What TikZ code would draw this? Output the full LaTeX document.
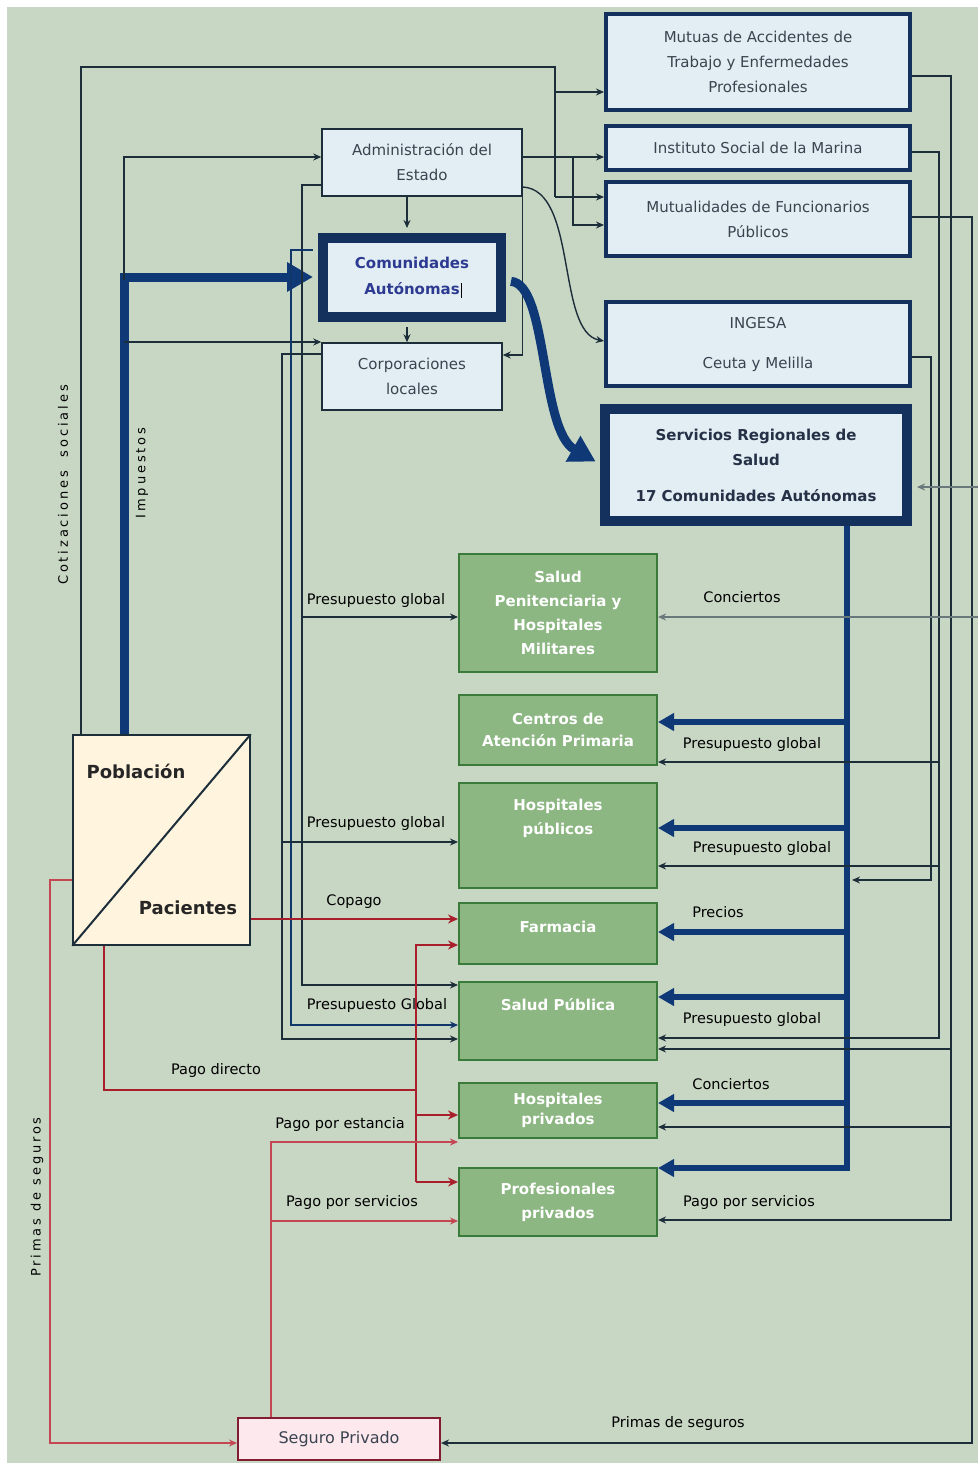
\documentclass[tikz,border=0pt]{standalone}
\usepackage{fontspec}
\setmainfont{DejaVu Sans}
\newfontfamily\spacedfont[LetterSpace=22]{DejaVu Sans}
\usetikzlibrary{arrows.meta,calc}
\definecolor{bgc}{RGB}{200,214,196}
\definecolor{upfill}{RGB}{226,238,243}
\definecolor{navy}{RGB}{20,48,92}
\definecolor{blueT}{RGB}{14,56,118}
\definecolor{gfill}{RGB}{140,182,130}
\definecolor{gborder}{RGB}{58,122,58}
\definecolor{cream}{RGB}{255,244,222}
\definecolor{redc}{RGB}{168,30,42}
\definecolor{pinkc}{RGB}{196,70,82}
\definecolor{dark}{RGB}{28,46,58}
\definecolor{greyl}{RGB}{105,120,122}
\definecolor{txtgrey}{RGB}{58,68,80}
\definecolor{catext}{RGB}{45,58,145}
\definecolor{srstext}{RGB}{38,48,70}
\definecolor{segfill}{RGB}{253,232,238}
\definecolor{segborder}{RGB}{130,28,48}
\tikzset{
  upbox/.style={draw=navy, line width=4pt, fill=upfill, text=txtgrey, align=center,
    font=\fontsize{15}{25}\selectfont, inner sep=0pt},
  srsbox/.style={draw=navy, line width=10pt, fill=upfill, text=srstext, align=center,
    font=\bfseries\fontsize{15}{25}\selectfont, inner sep=0pt},
  smallbox/.style={draw=dark, line width=1.5pt, fill=upfill, text=txtgrey, align=center,
    font=\fontsize{15}{25}\selectfont, inner sep=0pt},
  cabox/.style={draw=navy, line width=10pt, fill=upfill, text=catext, align=center,
    font=\bfseries\fontsize{15}{26}\selectfont, inner sep=0pt},
  gbox/.style={draw=gborder, line width=2pt, fill=gfill, text=white, align=center,
    minimum width=198pt, font=\bfseries\fontsize{15}{24}\selectfont, inner sep=0pt},
  gtext/.style={text=white, align=center, font=\bfseries\fontsize{15}{24}\selectfont, inner sep=0pt},
  pobbox/.style={draw=dark, line width=1.5pt, fill=cream, inner sep=0pt},
  pobtext/.style={text=black!85, font=\bfseries\fontsize{18}{20}\selectfont, inner sep=0pt},
  segbox/.style={draw=segborder, line width=2pt, fill=segfill, text=txtgrey,
    font=\fontsize{16}{18}\selectfont, inner sep=0pt},
  lab/.style={text=black, font=\fontsize{14.5}{17}\selectfont, inner sep=0pt},
  rotlab/.style={rotate=90, text=black, font=\fontsize{13}{15}\spacedfont, inner sep=0pt},
  thinl/.style={draw=dark, line width=1.4pt, line join=miter},
  tarr/.style={thinl, -{Stealth[length=8pt,width=7pt]}},
  garr/.style={draw=greyl, line width=1.4pt, -{Stealth[length=8pt,width=7pt]}},
  redl/.style={draw=redc, line width=2.6pt, line join=miter},
  rarr/.style={redl, -{Stealth[length=10pt,width=9pt]}},
  pinkl/.style={draw=pinkc, line width=1.5pt, line join=miter},
  parr/.style={pinkl, -{Stealth[length=8pt,width=7pt]}},
  barr/.style={draw=blueT, line width=6pt, line join=miter, -{Triangle[length=16pt,width=17pt]}},
  bbig/.style={draw=blueT, line width=9pt, line join=miter, -{Triangle[length=26pt,width=28pt]}}
}
\begin{document}
\begin{tikzpicture}[x=1pt,y=-1pt]
\useasboundingbox (0,0) rectangle (978,1463);
\fill[white] (0,0) rectangle (978,1463);
\fill[bgc] (7,7) rectangle (978,1463);

% ---------- upper right boxes
\node[upbox, minimum width=304pt, minimum height=96pt] (mutuas) at (758,62)
  {Mutuas de Accidentes de\\Trabajo y Enfermedades\\Profesionales};
\node[upbox, minimum width=304pt, minimum height=44pt] (ism) at (758,148)
  {Instituto Social de la Marina};
\node[upbox, minimum width=304pt, minimum height=74pt] (mutual) at (758,219)
  {Mutualidades de Funcionarios\\Públicos};
\node[upbox, minimum width=304pt, minimum height=84pt] (ingesa) at (758,344)
  {INGESA\\[15pt]Ceuta y Melilla};
\node[srsbox, minimum width=302pt, minimum height=112pt] (srs) at (756,465)
  {Servicios Regionales de\\Salud\\[11pt]17 Comunidades Autónomas};

% ---------- administrations
\node[smallbox, minimum width=200pt, minimum height=67pt] (admin) at (422,162.5)
  {Administración del\\Estado};
\node[cabox, minimum width=178pt, minimum height=79pt] (ca) at (412,277.5)
  {Comunidades\\Autónomas\rlap{\kern1pt\textcolor{black}{\rule[-3pt]{0.8pt}{15pt}}}};
\node[smallbox, minimum width=180pt, minimum height=67pt] (corp) at (412,376.5)
  {Corporaciones\\locales};

% ---------- green providers
\node[gbox, minimum height=118pt] (pen) at (558,613)
  {Salud\\Penitenciaria y\\Hospitales\\Militares};
\node[gbox, minimum height=70pt] (cap) at (558,730)
  {Centros de\\[-2pt]Atención Primaria};
\node[gbox, minimum height=105pt] (hpub) at (558,835.5) {};
\node[gtext] (hpubt) at (558,818) {Hospitales\\públicos};
\node[gbox, minimum height=61pt] (farm) at (558,933.5) {};
\node[gtext] (farmt) at (558,927) {Farmacia};
\node[gbox, minimum height=78pt] (spub) at (558,1021) {};
\node[gtext] (spubt) at (558,1005) {Salud Pública};
\node[gbox, minimum height=55pt] (hpriv) at (558,1110.5)
  {Hospitales\\[-4pt]privados};
\node[gbox, minimum height=68pt] (prof) at (558,1202)
  {Profesionales\\privados};

% ---------- population / patients
\node[pobbox, minimum width=177pt, minimum height=210pt] (pob) at (161.5,840) {};
\draw[line width=2pt, draw=dark] (pob.south west) -- (pob.north east);
\node[pobtext] (pobl) at (136,771) {Población};
\node[pobtext] (paci) at (188,908) {Pacientes};

% ---------- private insurance
\node[segbox, minimum width=202pt, minimum height=42pt] (seguro) at (339,1439) {Seguro Privado};

% ---------- Cotizaciones sociales
\draw[thinl] (pob.north -| 81,0) -- (81,67) -- (555,67) -- (555,197);
\draw[tarr] (555,92) -- (mutuas.west |- 0,92);
\draw[tarr] (555,197) -- (mutual.west |- 0,197);

% ---------- Administración del Estado outputs
\draw[tarr] (admin.east |- 0,157) -- (ism.west |- 0,157);
\draw[tarr] (573,157) -- (573,225) -- (mutual.west |- 0,225);
\draw[tarr] (admin.east |- 0,187) .. controls (578,190) and (556,332) .. (ingesa.west |- 0,341);
\draw[tarr, shorten >=5pt] (admin.south -| 407,0) -- (ca.north -| 407,0);
\draw[tarr, shorten <=5pt] (ca.south -| 407,0) -- (corp.north -| 407,0);
\draw[tarr] (admin.south east) -- (admin.south east |- 0,355) -- (corp.east |- 0,355);

% ---------- Impuestos
\draw[bbig, shorten >=5pt] (pob.north -| 124,0) -- (124,277) -- (ca.west |- 0,277);
\draw[tarr] (124,280) -- (124,157) -- (admin.west |- 0,157);
\draw[tarr] (124,342) -- (corp.west |- 0,342);

% ---------- left budget lines
\draw[tarr] (admin.west |- 0,185) -- (302,185) -- (302,985) -- (spub.west |- 0,985);
\draw[tarr] (302,617) -- (pen.west |- 0,617);
\draw[tarr, draw=blueT!80!dark, shorten <=5pt] (ca.west |- 0,250) -- (291,250) -- (291,1025) -- (spub.west |- 0,1025);
\draw[tarr] (corp.west |- 0,354) -- (282,354) -- (282,1039) -- (spub.west |- 0,1039);
\draw[tarr] (282,842) -- (hpub.west |- 0,842);

% ---------- CA -> SRS
\draw[bbig, shorten <=5pt, shorten >=5pt] (ca.east |- 0,281) .. controls (548,284) and (540,430) .. (srs.west |- 0,464);

% ---------- SRS distribution
\draw[barr] (srs.south -| 847,0) -- (847,1168) -- (prof.east |- 0,1168);
\draw[barr] (847,722) -- (cap.east |- 0,722);
\draw[barr] (847,828) -- (hpub.east |- 0,828);
\draw[barr] (847,932) -- (farm.east |- 0,932);
\draw[barr] (847,997) -- (spub.east |- 0,997);
\draw[barr] (847,1103) -- (hpriv.east |- 0,1103);

% ---------- right side lines
\draw[tarr] (mutuas.east |- 0,76) -- (951,76) -- (951,1220) -- (prof.east |- 0,1220);
\draw[tarr] (951,1049) -- (spub.east |- 0,1049);
\draw[tarr] (951,1127) -- (hpriv.east |- 0,1127);
\draw[tarr] (ism.east |- 0,152) -- (939,152) -- (939,1038) -- (spub.east |- 0,1038);
\draw[tarr] (939,762) -- (cap.east |- 0,762);
\draw[tarr] (939,866) -- (hpub.east |- 0,866);
\coordinate (ingend) at (852,880);
\draw[tarr] (ingesa.east |- 0,357) -- (931,357) -- (931,880) -- (ingend);
\draw[tarr] (mutual.east |- 0,217) -- (972,217) -- (972,1443) -- (seguro.east |- 0,1443);
\coordinate (edgeA) at (978,487);
\coordinate (edgeB) at (978,617);
\draw[garr, shorten >=5pt] (edgeA) -- (srs.east |- edgeA);
\draw[garr] (edgeB) -- (pen.east |- edgeB);

% ---------- patient payments
\draw[rarr] (pob.east |- 0,919) -- (farm.west |- 0,919);
\draw[redl] (pob.south -| 104,0) -- (104,1090) -- (416,1090);
\draw[rarr] (416,1182) -- (416,945) -- (farm.west |- 0,945);
\draw[rarr] (416,1115) -- (hpriv.west |- 0,1115);
\draw[rarr] (416,1182) -- (prof.west |- 0,1182);
\draw[parr] (seguro.north -| 271,0) -- (271,1142) -- (hpriv.west |- 0,1142);
\draw[parr] (271,1221) -- (prof.west |- 0,1221);
\draw[parr] (pob.west |- 0,880) -- (50,880) -- (50,1443) -- (seguro.west |- 0,1443);

% ---------- labels
\node[lab] (l1) at (376,600) {Presupuesto global};
\node[lab] (l2) at (376,823) {Presupuesto global};
\node[lab] (l3) at (354,902) {Copago};
\node[lab] (l4) at (377,1005) {Presupuesto Global};
\node[lab] (l5) at (216,1070) {Pago directo};
\node[lab] (l6) at (340,1124) {Pago por estancia};
\node[lab] (l7) at (352,1202) {Pago por servicios};
\node[lab] (r1) at (742,597) {Conciertos};
\node[lab] (r2) at (752,744) {Presupuesto global};
\node[lab] (r3) at (762,848) {Presupuesto global};
\node[lab] (r4) at (718,912) {Precios};
\node[lab] (r5) at (752,1019) {Presupuesto global};
\node[lab] (r6) at (731,1084) {Conciertos};
\node[lab] (r7) at (749,1202) {Pago por servicios};
\node[lab] (b1) at (678,1423) {Primas de seguros};
\node[rotlab] (v1) at (63,485) {Cotizaciones\ \ sociales};
\node[rotlab] (v2) at (142,473) {Impuestos};
\node[rotlab] (v3) at (37,1197) {Primas de seguros};
\end{tikzpicture}
\end{document}
